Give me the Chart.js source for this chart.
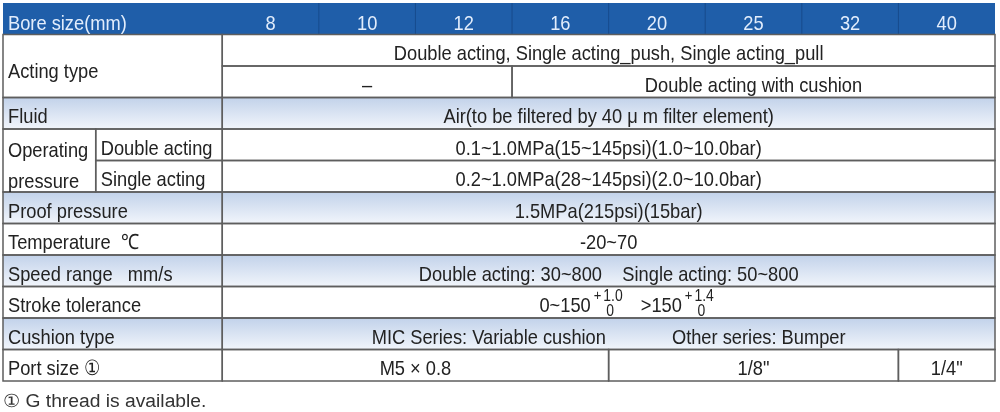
<!DOCTYPE html>
<html>
<head>
<meta charset="utf-8">
<script src="https://cdn.jsdelivr.net/npm/chart.js@4.4.1/dist/chart.umd.min.js"></script>
<style>html,body{margin:0;padding:0;background:#fff;}canvas{display:block;}</style>
</head>
<body>
<canvas id="specChart" width="1000" height="412"></canvas>
<script>
// ---- table content ----
var headerLabel = 'Bore size(mm)';
var boreSizes = ['8', '10', '12', '16', '20', '25', '32', '40'];
var rowNames = ['Acting type', 'Fluid', 'Operating\npressure', 'Proof pressure', 'Temperature  \u2103',
  'Speed range   mm/s', 'Stroke tolerance', 'Cushion type', 'Port size \u2460'];
var actingTypes = 'Double acting, Single acting_push, Single acting_pull';
var cushionOption = ['\u2013', 'Double acting with cushion'];
var cushionOptionCols = [3, 5];            // how many bore columns each value covers
var fluid = 'Air(to be filtered by 40 \u03bc m filter element)';
var pressureKinds = ['Double acting', 'Single acting'];
var pressureRanges = ['0.1~1.0MPa(15~145psi)(1.0~10.0bar)', '0.2~1.0MPa(28~145psi)(2.0~10.0bar)'];
var proofPressure = '1.5MPa(215psi)(15bar)';
var temperature = '-20~70';
var speedRange = ['Double acting: 30~800', 'Single acting: 50~800'];
var strokeRanges = ['0~150', '>150'];
var strokeUpper = ['1.0', '1.4'];
var strokeLower = ['0', '0'];
var cushionTypes = ['MIC Series: Variable cushion', 'Other series: Bumper'];
var portSizes = ['M5 \u00d7 0.8', '1/8"', '1/4"'];
var portSizeCols = [4, 3, 1];
var footnote = '\u2460 G thread is available.';

var rowKeys = ['head', 'act1', 'act2', 'fluid', 'op1', 'op2', 'proof', 'temp', 'speed', 'stroke', 'cushion', 'port'];
var shadedRows = ['fluid', 'proof', 'speed', 'cushion'];

// x axis units: bore columns are 0..8, label column sits left of 0
var LABEL_START = -2.27;
var LABEL_SPLIT = -1.31;
var NCOL = boreSizes.length;
var SX = 0.87; // text in the picture is a bit narrow
var FONT = '"Liberation Sans", Arial, sans-serif';
var INK = '#222222';

// build the cell list (row from, row to, x from, x to, text)
var cells = [];
function cell(r0, r1, x0, x1, text, align, kind) {
  cells.push({r0: r0, r1: r1, x0: x0, x1: x1, text: text, align: align || 'center', kind: kind || 'body'});
}
cell(0, 0, LABEL_START, 0, headerLabel, 'left', 'head');
boreSizes.forEach(function (b, i) { cell(0, 0, i, i + 1, b, 'center', 'head'); });
cell(1, 2, LABEL_START, 0, rowNames[0], 'left');
cell(1, 1, 0, NCOL, actingTypes);
var c0 = 0;
cushionOption.forEach(function (t, i) { cell(2, 2, c0, c0 + cushionOptionCols[i], t); c0 += cushionOptionCols[i]; });
cell(3, 3, LABEL_START, 0, rowNames[1], 'left');
cell(3, 3, 0, NCOL, fluid);
cell(4, 5, LABEL_START, LABEL_SPLIT, rowNames[2], 'left');
pressureKinds.forEach(function (p, i) {
  cell(4 + i, 4 + i, LABEL_SPLIT, 0, p, 'left');
  cell(4 + i, 4 + i, 0, NCOL, pressureRanges[i]);
});
cell(6, 6, LABEL_START, 0, rowNames[3], 'left');
cell(6, 6, 0, NCOL, proofPressure);
cell(7, 7, LABEL_START, 0, rowNames[4], 'left');
cell(7, 7, 0, NCOL, temperature);
cell(8, 8, LABEL_START, 0, rowNames[5], 'left');
cell(8, 8, 0, NCOL, speedRange.join('    '));
cell(9, 9, LABEL_START, 0, rowNames[6], 'left');
cell(9, 9, 0, NCOL, null, 'center', 'stroke');
cell(10, 10, LABEL_START, 0, rowNames[7], 'left');
cell(10, 10, 0, NCOL, cushionTypes.join('             '));
cell(11, 11, LABEL_START, 0, rowNames[8], 'left');
c0 = 0;
portSizes.forEach(function (t, i) { cell(11, 11, c0, c0 + portSizeCols[i], t); c0 += portSizeCols[i]; });

function drawText(ctx, str, px, py, align, size, color, sx) {
  ctx.save();
  ctx.font = size + 'px ' + FONT;
  ctx.fillStyle = color;
  ctx.textAlign = align;
  ctx.textBaseline = 'alphabetic';
  ctx.translate(px, py);
  ctx.scale(sx, 1);
  ctx.fillText(str, 0, 0);
  ctx.restore();
}
function textWidth(ctx, str, size) {
  ctx.save();
  ctx.font = size + 'px ' + FONT;
  var w = ctx.measureText(str).width * SX;
  ctx.restore();
  return w;
}

// stroke tolerance: value with stacked +upper / lower tolerance
function drawStroke(ctx, cx, mid) {
  var parts = [];
  var total = 0;
  strokeRanges.forEach(function (r, i) {
    var wm = textWidth(ctx, r, 21), wp = textWidth(ctx, '+', 15);
    var wu = textWidth(ctx, strokeUpper[i], 16);
    parts.push({r: r, wm: wm, wp: wp, wu: wu, i: i});
    total += wm + 3 + wp + 2 + wu + (i < strokeRanges.length - 1 ? 18 : 0);
  });
  var px = cx - total / 2 + 18;
  parts.forEach(function (p) {
    drawText(ctx, p.r, px, mid + 10, 'left', 21, INK, SX);
    px += p.wm + 3;
    drawText(ctx, '+', px, mid - 2, 'left', 15, INK, SX);
    px += p.wp + 2;
    drawText(ctx, strokeUpper[p.i], px, mid - 1.5, 'left', 16, INK, SX);
    drawText(ctx, strokeLower[p.i], px + 3, mid + 13.5, 'left', 16, INK, SX);
    px += p.wu + 18;
  });
}

var tablePlugin = {
  id: 'tablePlugin',
  afterDatasetsDraw: function (chart) {
    var ctx = chart.ctx, x = chart.scales.x, y = chart.scales.y;
    var half = (y.getPixelForValue(1) - y.getPixelForValue(0)) / 2;
    function top(r) { return y.getPixelForValue(r) - half; }
    function bot(r) { return y.getPixelForValue(r) + half; }

    // lines
    ctx.save();
    cells.forEach(function (c) {
      var l = x.getPixelForValue(c.x0), r = x.getPixelForValue(c.x1);
      if (c.kind === 'head') {
        if (c.x0 > 0) {
          ctx.strokeStyle = 'rgba(10,40,90,0.35)';
          ctx.lineWidth = 1;
          ctx.beginPath(); ctx.moveTo(l, top(c.r0)); ctx.lineTo(l, bot(c.r1)); ctx.stroke();
        }
        return;
      }
      ctx.strokeStyle = '#5e5e5e';
      ctx.lineWidth = 1.5;
      ctx.strokeRect(l, top(c.r0), r - l, bot(c.r1) - top(c.r0));
    });
    ctx.restore();

    // texts
    cells.forEach(function (c) {
      var l = x.getPixelForValue(c.x0), r = x.getPixelForValue(c.x1);
      var mid = (top(c.r0) + bot(c.r1)) / 2;
      if (c.kind === 'stroke') { drawStroke(ctx, (l + r) / 2, mid); return; }
      var color = c.kind === 'head' ? '#e2edfc' : INK;
      var px = c.align === 'left' ? l + 5 : (l + r) / 2;
      var lines = c.text.split('\n');
      if (lines.length > 1) {
        lines.forEach(function (t, k) {
          var m = (top(c.r0 + k) + bot(c.r0 + k)) / 2;
          drawText(ctx, t, px, m + 12, c.align, 21, color, SX);
        });
      } else {
        drawText(ctx, c.text, px, mid + (c.r1 > c.r0 ? 12 : 10) + (c.kind === 'head' ? 1 : 0), c.align, 21, color, SX);
      }
    });

    drawText(ctx, footnote, chart.chartArea.left, chart.chartArea.bottom + 26, 'left', 18, '#333', 1.07);
  }
};

function rowFill(context) {
  var key = rowKeys[context.dataIndex];
  if (key === 'head') return '#1f5ea9';
  if (shadedRows.indexOf(key) < 0) return '#ffffff';
  var chart = context.chart, y = chart.scales.y;
  if (!y || !chart.chartArea) return '#dbe5f3';
  var half = (y.getPixelForValue(1) - y.getPixelForValue(0)) / 2;
  var c = y.getPixelForValue(context.dataIndex);
  var g = chart.ctx.createLinearGradient(0, c - half, 0, c + half);
  g.addColorStop(0, '#c2d2ea');
  g.addColorStop(1, '#f1f5fb');
  return g;
}

new Chart(document.getElementById('specChart'), {
  type: 'bar',
  data: {
    labels: rowKeys,
    datasets: [{
      data: rowKeys.map(function (k) { return {y: k, x: [LABEL_START, NCOL]}; }),
      backgroundColor: rowFill,
      borderWidth: 0,
      barPercentage: 1,
      categoryPercentage: 1
    }]
  },
  options: {
    indexAxis: 'y',
    responsive: false,
    animation: false,
    layout: {padding: {left: 3, right: 5, top: 3, bottom: 31}},
    plugins: {legend: {display: false}, tooltip: {enabled: false}},
    scales: {
      x: {type: 'linear', min: LABEL_START, max: NCOL, display: false},
      y: {type: 'category', labels: rowKeys, display: false}
    }
  },
  plugins: [tablePlugin]
});
</script>
</body>
</html>
